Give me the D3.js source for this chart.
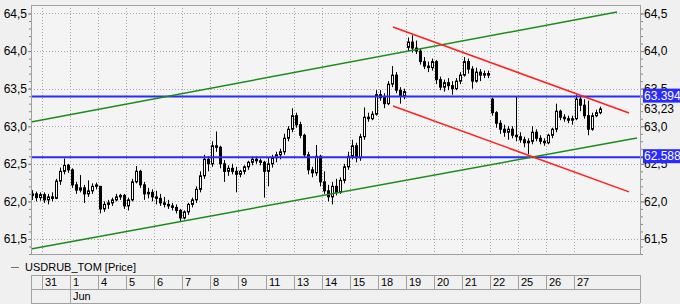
<!DOCTYPE html>
<html>
<head>
<meta charset="utf-8">
<script src="https://cdn.jsdelivr.net/npm/d3@7"></script>
<style>
body { margin: 0; background: #f0f0f0; }
svg { display: block; font-family: "Liberation Sans", Arial, sans-serif; }
</style>
</head>
<body>
<div id="viz"></div>
<script>
// day labels under the chart (30 May is the partial day at the left edge)
var dayLabels = ["31", "1", "4", "5", "6", "7", "8", "9", "11", "13", "14", "15", "18", "19", "20", "21", "22", "25", "26", "27"];
var monthLabel = "Jun";
var monthStartDay = 1;

// bars: 3 on the partial first day, then 7 per day
var barOpen = [
  62.08, 62.10, 62.05,
  62.09, 62.02, 62.06, 62.04, 62.27, 62.40, 62.48,
  62.42, 62.22, 62.15, 62.18, 62.10, 62.14, 62.20,
  62.20, 61.90, 61.96, 61.98, 62.02, 62.06, 62.08,
  61.94, 62.02, 62.26, 62.40, 62.22, 62.10, 62.12,
  62.06, 62.04, 61.98, 61.96, 61.94, 61.92, 61.88,
  61.78, 61.86, 61.96, 62.02, 62.16, 62.34, 62.56,
  62.50, 62.74, 62.72, 62.50, 62.40, 62.44, 62.40,
  62.36, 62.40, 62.46, 62.52, 62.56, 62.54, 62.52,
  62.40, 62.50, 62.58, 62.62, 62.66, 62.84, 62.96,
  63.14, 63.02, 62.88, 62.62, 62.42, 62.38, 62.60,
  62.26, 62.14, 62.06, 62.20, 62.12, 62.28, 62.46,
  62.60, 62.74, 62.58, 62.86, 63.12, 63.10, 63.16,
  63.42, 63.38, 63.30, 63.56, 63.68, 63.48, 63.40,
  64.05, 64.12, 64.04, 64.00, 63.86, 63.80, 63.78,
  63.86, 63.62, 63.52, 63.58, 63.54, 63.50, 63.60,
  63.68, 63.86, 63.76, 63.60, 63.72, 63.68, 63.70,
  63.36, 63.18, 63.04, 62.96, 62.92, 62.96, 62.88,
  62.86, 62.82, 62.78, 62.80, 62.92, 62.84, 62.80,
  62.78, 62.88, 62.96, 63.20, 63.12, 63.10, 63.08,
  63.10, 63.36, 63.28, 63.14, 62.96, 63.14, 63.18
];
var barHigh = [
  62.15, 62.13, 62.12,
  62.12, 62.10, 62.12, 62.30, 62.45, 62.57, 62.50,
  62.44, 62.26, 62.35, 62.22, 62.28, 62.24, 62.25,
  62.20, 62.00, 62.02, 62.05, 62.10, 62.10, 62.10,
  62.05, 62.30, 62.47, 62.42, 62.26, 62.18, 62.16,
  62.14, 62.10, 62.06, 62.02, 61.98, 61.96, 61.90,
  61.88, 61.98, 62.05, 62.20, 62.40, 62.62, 62.60,
  62.80, 62.93, 62.74, 62.55, 62.48, 62.50, 62.46,
  62.42, 62.48, 62.54, 62.60, 62.60, 62.57, 62.54,
  62.58, 62.62, 62.66, 62.70, 62.90, 63.00, 63.24,
  63.18, 63.06, 62.90, 62.66, 62.46, 62.75, 62.62,
  62.40, 62.22, 62.26, 62.30, 62.32, 62.50, 62.66,
  62.82, 62.78, 62.90, 63.25, 63.18, 63.20, 63.48,
  63.48, 63.44, 63.60, 63.80, 63.72, 63.52, 63.50,
  64.18, 64.21, 64.14, 64.04, 63.92, 63.86, 63.90,
  63.88, 63.66, 63.62, 63.64, 63.60, 63.64, 63.72,
  63.92, 63.90, 63.80, 63.78, 63.76, 63.74, 63.74,
  63.38, 63.20, 63.08, 63.02, 63.00, 63.00, 63.40,
  62.92, 62.86, 62.84, 63.00, 62.96, 62.88, 62.84,
  62.90, 62.98, 63.30, 63.22, 63.16, 63.14, 63.14,
  63.42, 63.40, 63.36, 63.34, 63.18, 63.22, 63.26
];
var barLow = [
  62.02, 62.00, 62.01,
  61.98, 61.96, 62.00, 62.03, 62.22, 62.36, 62.38,
  62.18, 62.10, 62.12, 61.98, 62.06, 62.10, 62.16,
  61.84, 61.86, 61.90, 61.94, 62.00, 62.02, 61.90,
  61.88, 62.00, 62.24, 62.18, 62.02, 62.04, 62.00,
  61.96, 61.94, 61.92, 61.90, 61.88, 61.84, 61.74,
  61.76, 61.82, 61.92, 61.98, 62.12, 62.30, 62.40,
  62.46, 62.66, 62.44, 62.26, 62.34, 62.36, 62.12,
  62.32, 62.36, 62.42, 62.48, 62.50, 62.48, 62.05,
  62.20, 62.45, 62.52, 62.56, 62.62, 62.80, 62.92,
  62.98, 62.84, 62.58, 62.36, 62.32, 62.34, 62.20,
  62.10, 62.00, 61.96, 62.08, 62.10, 62.24, 62.42,
  62.56, 62.52, 62.54, 62.82, 63.06, 63.08, 63.14,
  63.34, 63.24, 63.28, 63.52, 63.44, 63.30, 63.36,
  64.00, 63.98, 63.96, 63.82, 63.76, 63.72, 63.74,
  63.56, 63.48, 63.46, 63.48, 63.42, 63.48, 63.56,
  63.66, 63.70, 63.50, 63.58, 63.60, 63.64, 63.64,
  63.14, 62.98, 62.90, 62.86, 62.82, 62.84, 62.80,
  62.78, 62.72, 62.63, 62.76, 62.80, 62.76, 62.74,
  62.76, 62.84, 62.92, 63.08, 63.06, 63.04, 63.02,
  63.08, 63.20, 63.10, 62.88, 62.94, 63.12, 63.16
];
var barClose = [
  62.10, 62.05, 62.09,
  62.02, 62.06, 62.04, 62.27, 62.40, 62.48, 62.42,
  62.22, 62.15, 62.18, 62.10, 62.14, 62.20, 62.22,
  61.90, 61.96, 61.98, 62.02, 62.06, 62.08, 61.94,
  62.02, 62.26, 62.40, 62.22, 62.10, 62.12, 62.06,
  62.04, 61.98, 61.96, 61.94, 61.92, 61.88, 61.78,
  61.86, 61.96, 62.02, 62.16, 62.34, 62.56, 62.50,
  62.74, 62.72, 62.50, 62.40, 62.44, 62.40, 62.36,
  62.40, 62.46, 62.52, 62.56, 62.54, 62.52, 62.40,
  62.50, 62.58, 62.62, 62.66, 62.84, 62.96, 63.14,
  63.02, 62.88, 62.62, 62.42, 62.38, 62.60, 62.26,
  62.14, 62.06, 62.20, 62.12, 62.28, 62.46, 62.60,
  62.74, 62.58, 62.86, 63.12, 63.10, 63.16, 63.42,
  63.38, 63.30, 63.56, 63.68, 63.48, 63.40, 63.46,
  64.12, 64.04, 64.00, 63.86, 63.80, 63.78, 63.86,
  63.62, 63.52, 63.58, 63.54, 63.50, 63.60, 63.68,
  63.86, 63.76, 63.60, 63.72, 63.68, 63.70, 63.68,
  63.18, 63.04, 62.96, 62.92, 62.96, 62.88, 62.86,
  62.82, 62.78, 62.80, 62.92, 62.84, 62.80, 62.78,
  62.88, 62.96, 63.20, 63.12, 63.10, 63.08, 63.10,
  63.36, 63.28, 63.14, 62.96, 63.14, 63.18, 63.23
];
var barsPerDay = 7;
var firstSlot = 4; // first bar sits in slot 4 of the partial day

// horizontal levels (blue) and trend lines as [day, price] end points
var levels = [63.394, 62.588];
var greenLines = [
  [[-0.393, 63.057], [20.536, 64.52]],
  [[-0.393, 61.368], [21.25, 62.844]]
];
var redLines = [
  [[12.536, 64.32], [20.964, 63.177]],
  [[12.536, 63.27], [20.964, 62.126]]
];
var priceTicks = [61.5, 62.0, 62.5, 63.0, 63.5, 64.0, 64.5];
var seriesName = "USDRUB_TOM [Price]";

var w = 680, h = 304;
var pLeft = 31, pRight = 640, pTop = 5, pBottom = 254;

var svg = d3.select("#viz").append("svg")
    .attr("width", w)
    .attr("height", h);

svg.append("rect")
    .attr("width", w).attr("height", h)
    .style("fill", "#f0f0f0");

var x = d3.scaleLinear().domain([0, 20]).range([42, 602]);
var y = d3.scaleLinear().domain([61.3, 64.613]).range([pBottom, pTop]);

svg.append("rect")
    .attr("x", pLeft).attr("y", pTop)
    .attr("width", pRight - pLeft).attr("height", pBottom - pTop)
    .style("fill", "#f4f4f4");

var comma = function(v) { return d3.format(".1f")(v).replace(".", ","); };

// grid
svg.append("g").selectAll("line")
    .data(priceTicks)
  .enter().append("line")
    .attr("x1", pLeft).attr("x2", pRight)
    .attr("y1", function(d) { return Math.round(y(d)) + 0.5; })
    .attr("y2", function(d) { return Math.round(y(d)) + 0.5; })
    .style("stroke", "#a8a8a8")
    .style("stroke-dasharray", "1,2");

svg.append("g").selectAll("line")
    .data(dayLabels)
  .enter().append("line")
    .attr("x1", function(d, i) { return Math.round(x(i)) + 0.5; })
    .attr("x2", function(d, i) { return Math.round(x(i)) + 0.5; })
    .attr("y1", pTop).attr("y2", pBottom)
    .style("stroke", "#a8a8a8")
    .style("stroke-dasharray", "1,2");

// candles
var bars = barOpen.map(function(o, i) {
  return { o: o, h: barHigh[i], l: barLow[i], c: barClose[i], pos: -1 + (i + firstSlot + 0.5) / barsPerDay };
});

var candle = svg.append("g").selectAll("g")
    .data(bars)
  .enter().append("g");

candle.append("line")
    .attr("x1", function(d) { return Math.round(x(d.pos)) + 0.5; })
    .attr("x2", function(d) { return Math.round(x(d.pos)) + 0.5; })
    .attr("y1", function(d) { return y(d.h); })
    .attr("y2", function(d) { return y(d.l); })
    .style("stroke", "#000");

candle.append("rect")
    .attr("x", function(d) { return Math.round(x(d.pos)) - 0.5; })
    .attr("y", function(d) { return y(Math.max(d.o, d.c)); })
    .attr("width", 2)
    .attr("height", function(d) { return Math.max(1, Math.abs(y(d.o) - y(d.c))); })
    .style("fill", function(d) { return d.c >= d.o ? "#fff" : "#000"; })
    .style("stroke", "#000")
    .style("stroke-width", 1);

// levels
svg.append("g").selectAll("line")
    .data(levels)
  .enter().append("line")
    .attr("x1", pLeft).attr("x2", pRight + 4)
    .attr("y1", function(d) { return y(d); })
    .attr("y2", function(d) { return y(d); })
    .style("stroke", "#2a2aff")
    .style("stroke-width", 2);

var line = d3.line()
    .x(function(d) { return x(d[0]); })
    .y(function(d) { return y(d[1]); });

svg.append("g").selectAll("path")
    .data(greenLines)
  .enter().append("path")
    .attr("d", line)
    .style("fill", "none")
    .style("stroke", "#1a8c1a")
    .style("stroke-width", 1.5);

svg.append("g").selectAll("path")
    .data(redLines)
  .enter().append("path")
    .attr("d", line)
    .style("fill", "none")
    .style("stroke", "#ff2020")
    .style("stroke-width", 1.5);

// frame
svg.append("rect")
    .attr("x", pLeft + 0.5).attr("y", pTop + 0.5)
    .attr("width", pRight - pLeft).attr("height", pBottom - pTop)
    .style("fill", "none")
    .style("stroke", "#a0a0a0");

// price axes, left and right
var minor = d3.range(613, 646).map(function(v) { return v / 10; });

svg.append("g")
    .attr("transform", "translate(" + pLeft + ",0)")
    .call(d3.axisLeft(y).tickValues(minor).tickSize(2).tickFormat(""))
    .call(function(g) { g.select(".domain").remove(); g.selectAll("line").style("stroke", "#888"); });

svg.append("g")
    .attr("transform", "translate(" + (pRight + 1) + ",0)")
    .call(d3.axisRight(y).tickValues(minor).tickSize(2).tickFormat(""))
    .call(function(g) { g.select(".domain").remove(); g.selectAll("line").style("stroke", "#888"); });

svg.append("g")
    .attr("transform", "translate(" + pLeft + ",0)")
    .call(d3.axisLeft(y).tickValues(priceTicks).tickSize(3).tickFormat(comma))
    .call(function(g) {
      g.select(".domain").remove();
      g.selectAll("line").style("stroke", "#888");
      g.selectAll("text").attr("x", -4).style("font-size", "12px").style("fill", "#000")
        .style("font-family", "'Liberation Sans', Arial, sans-serif");
    });

svg.append("g")
    .attr("transform", "translate(" + (pRight + 1) + ",0)")
    .call(d3.axisRight(y).tickValues(priceTicks).tickSize(3).tickFormat(comma))
    .call(function(g) {
      g.select(".domain").remove();
      g.selectAll("line").style("stroke", "#888");
      g.selectAll("text").attr("x", 3).style("font-size", "12px").style("fill", "#000")
        .style("font-family", "'Liberation Sans', Arial, sans-serif");
    });

// last price
var last = barClose[barClose.length - 1];
svg.append("text")
    .attr("x", pRight + 4)
    .attr("y", y(last))
    .attr("dy", "0.35em")
    .style("font-size", "12px")
    .text(d3.format(".2f")(last).replace(".", ","));

// level boxes
var box = svg.append("g").selectAll("g")
    .data(levels)
  .enter().append("g");

box.append("rect")
    .attr("x", pRight + 3)
    .attr("y", function(d) { return y(d) - 8; })
    .attr("width", w - pRight - 3)
    .attr("height", 14)
    .style("fill", "#2a2aff");

box.append("text")
    .attr("x", pRight + 4)
    .attr("y", function(d) { return y(d) - 1; })
    .attr("dy", "0.35em")
    .style("font-size", "12px")
    .style("fill", "#fff")
    .text(function(d) { return d3.format(".3f")(d); });

// legend
svg.append("line")
    .attr("x1", 11).attr("x2", 19)
    .attr("y1", 267.5).attr("y2", 267.5)
    .style("stroke", "#707070");

svg.append("text")
    .attr("x", 25).attr("y", 271)
    .style("font-size", "11px")
    .text(seriesName);

// date table
var rowTop = 275, rowMid = 289, rowBot = 303;
var grid = svg.append("g").style("stroke", "#a0a0a0");
[rowTop, rowMid, rowBot].forEach(function(r) {
  grid.append("line")
      .attr("x1", pLeft).attr("x2", pRight)
      .attr("y1", r + 0.5).attr("y2", r + 0.5);
});
var cuts = [pLeft].concat(dayLabels.map(function(d, i) { return Math.round(x(i)); })).concat([pRight]);
grid.selectAll(".cut")
    .data(cuts)
  .enter().append("line")
    .attr("x1", function(d) { return d + 0.5; })
    .attr("x2", function(d) { return d + 0.5; })
    .attr("y1", rowTop).attr("y2", rowMid);
[pLeft, Math.round(x(monthStartDay)), pRight].forEach(function(c) {
  grid.append("line")
      .attr("x1", c + 0.5).attr("x2", c + 0.5)
      .attr("y1", rowMid).attr("y2", rowBot);
});

svg.append("g").selectAll("text")
    .data(dayLabels)
  .enter().append("text")
    .attr("x", function(d, i) { return Math.round(x(i)) + 3; })
    .attr("y", 286)
    .style("font-size", "11px")
    .text(function(d) { return d; });

svg.append("text")
    .attr("x", Math.round(x(monthStartDay)) + 3)
    .attr("y", 300)
    .style("font-size", "11px")
    .text(monthLabel);
</script>
</body>
</html>
